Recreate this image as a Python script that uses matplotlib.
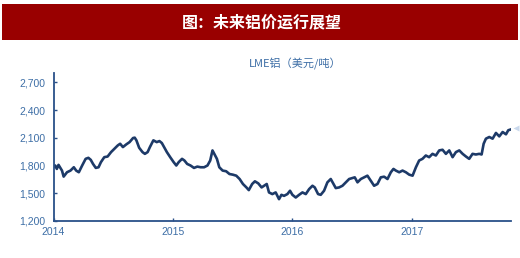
import numpy as np
import matplotlib.pyplot as plt
import matplotlib.patches as patches
import matplotlib.transforms as mtransforms

plt.rcParams['font.family'] = ['Liberation Sans', 'Noto Sans CJK SC', 'DejaVu Sans']

# LME 铝价 (美元/吨), x in decimal years
years_a = [2014.00, 2014.014, 2014.028, 2014.042, 2014.071, 2014.085, 2014.113, 2014.142, 2014.170,
           2014.190, 2014.212, 2014.240, 2014.269, 2014.292, 2014.312, 2014.331, 2014.354, 2014.377,
           2014.397, 2014.425, 2014.453, 2014.482, 2014.510, 2014.538, 2014.558, 2014.581, 2014.609,
           2014.637, 2014.666, 2014.680, 2014.694, 2014.717, 2014.745, 2014.765, 2014.788, 2014.807,
           2014.836, 2014.864, 2014.887, 2014.907, 2014.926, 2014.949, 2014.977, 2015.006, 2015.028,
           2015.048, 2015.076, 2015.096, 2015.119, 2015.147, 2015.176, 2015.204, 2015.232, 2015.261,
           2015.289, 2015.312, 2015.331, 2015.346, 2015.368, 2015.388, 2015.416, 2015.445, 2015.473,
           2015.501, 2015.530, 2015.558, 2015.586, 2015.615, 2015.635, 2015.663, 2015.686, 2015.714,
           2015.742]
vals_a = [1781, 1800, 1763, 1807, 1745, 1680, 1727, 1745, 1781, 1745, 1727, 1800, 1872, 1883, 1861,
          1817, 1774, 1781, 1836, 1890, 1897, 1945, 1981, 2017, 2035, 1999, 2028, 2053, 2097, 2101,
          2072, 1992, 1945, 1926, 1945, 1999, 2072, 2053, 2064, 2043, 1999, 1945, 1890, 1836, 1800,
          1836, 1872, 1854, 1817, 1800, 1774, 1788, 1781, 1781, 1800, 1854, 1963, 1926, 1872, 1781,
          1745, 1738, 1708, 1701, 1690, 1654, 1600, 1563, 1534, 1600, 1629, 1607, 1563]

years_b = [2015.763, 2015.785, 2015.804, 2015.832, 2015.860, 2015.888, 2015.908, 2015.930, 2015.958,
           2015.980, 2016.000, 2016.028, 2016.056, 2016.084, 2016.112, 2016.140, 2016.168, 2016.187,
           2016.215, 2016.237, 2016.265, 2016.293, 2016.321, 2016.344, 2016.363, 2016.391, 2016.419,
           2016.447, 2016.475, 2016.503, 2016.522, 2016.545, 2016.573, 2016.601, 2016.628, 2016.656,
           2016.684, 2016.712, 2016.740, 2016.768, 2016.796, 2016.824, 2016.846, 2016.866, 2016.894,
           2016.922, 2016.950, 2016.978, 2017.006, 2017.034, 2017.061, 2017.089, 2017.117, 2017.145,
           2017.173, 2017.201, 2017.229, 2017.257, 2017.285, 2017.313, 2017.341, 2017.369, 2017.397,
           2017.425, 2017.453, 2017.480, 2017.508, 2017.536, 2017.564, 2017.584, 2017.601, 2017.620,
           2017.648, 2017.676, 2017.704, 2017.732, 2017.760, 2017.788, 2017.807, 2017.824]
vals_b = [1581, 1600, 1509, 1491, 1509, 1436, 1483, 1472, 1491, 1527, 1483, 1454, 1483, 1509,
          1491, 1545, 1581, 1563, 1491, 1483, 1527, 1618, 1654, 1600, 1556, 1563, 1581, 1618, 1654,
          1665, 1672, 1618, 1654, 1672, 1690, 1636, 1581, 1600, 1672, 1679, 1654, 1727, 1763, 1745,
          1727, 1745, 1727, 1701, 1690, 1781, 1854, 1872, 1908, 1890, 1926, 1908, 1963, 1970, 1926,
          1963, 1890, 1945, 1963, 1926, 1897, 1872, 1926, 1919, 1926, 1919, 2035, 2090, 2108, 2090,
          2152, 2115, 2162, 2137, 2181, 2188]

years = years_a + years_b
vals = vals_a + vals_b

year_ticks = [2014, 2015, 2016, 2017]
price_ticks = [1200, 1500, 1800, 2100, 2400, 2700]

title = '图：未来铝价运行展望'
series_label = 'LME铝（美元/吨）'

line_c = '#1d3a68'
axis_c = '#2a5189'
text_c = '#3d6ea6'

fig = plt.figure(figsize=(5.2, 2.58), dpi=100)
fig.patch.set_facecolor('white')

# red title banner
fig.patches.append(patches.Rectangle((2 / 520, 1 - 40 / 258), 516 / 520, 36 / 258,
                                     transform=fig.transFigure, facecolor='#990000',
                                     edgecolor='none'))
fig.text(262 / 520, 1 - 22 / 258, title, color='white', fontsize=11.5, fontweight='bold',
         ha='center', va='center', family=['Noto Sans CJK SC', 'DejaVu Sans'])

ax = fig.add_axes([53.5 / 520, 1 - 221 / 258, 457.5 / 520, 148 / 258])
ax.plot(years, vals, color=line_c, lw=1.9, solid_joinstyle='round')
ax.plot(years[-1], vals[-1], marker='<', ms=4, color='#c9d8ec', mec='none',
        transform=ax.transData + mtransforms.ScaledTranslation(6 / 100, 2 / 100, fig.dpi_scale_trans),
        clip_on=False)

ax.set_xlim(2014, 2017.83)
ax.set_ylim(1200, 2800)
ax.set_xticks(year_ticks)
ax.set_xticklabels([str(y) for y in year_ticks])
ax.set_yticks(price_ticks)
ax.set_yticklabels([f'{v:,}' for v in price_ticks])

for s in ['top', 'right']:
    ax.spines[s].set_visible(False)
for s in ['left', 'bottom']:
    ax.spines[s].set_color(axis_c)
    ax.spines[s].set_linewidth(1.3)
ax.tick_params(direction='in', length=2.5, width=1, color=axis_c, labelcolor=text_c,
               labelsize=7.5, pad=6)
ax.tick_params(axis='x', pad=4)

ax.text(0.528, 1.06, series_label, transform=ax.transAxes, color=text_c, fontsize=8,
        ha='center', va='center', family=['Noto Sans CJK SC', 'DejaVu Sans'])

fig.savefig('out.png', dpi=100)
